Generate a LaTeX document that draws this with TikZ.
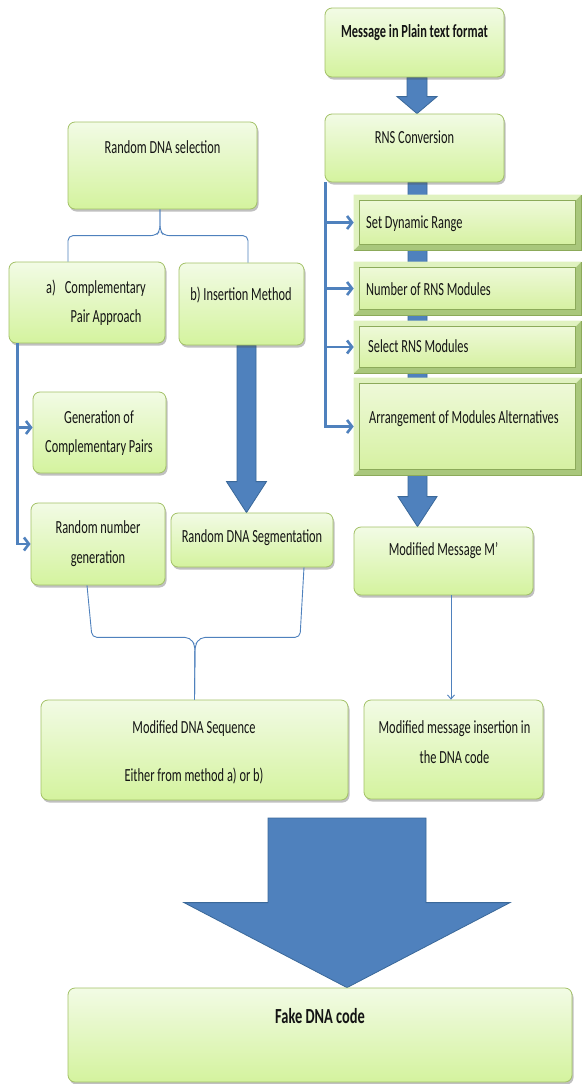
\documentclass[tikz,border=0pt]{standalone}
\usepackage{fontspec}
\setmainfont{Carlito}[FakeStretch=0.67]
\usetikzlibrary{positioning, calc, arrows.meta, shadows, backgrounds}
\definecolor{boxtop}{HTML}{F2FBE5}
\definecolor{boxbot}{HTML}{D4F39E}
\definecolor{boxedge}{HTML}{A3C167}
\definecolor{bevdark}{HTML}{A9C77C}
\definecolor{bevedge}{HTML}{8CAA5A}
\definecolor{bevlight}{HTML}{E0F2C0}
\definecolor{bevtop}{HTML}{EEF9D8}
\definecolor{bevbot}{HTML}{D6F1A2}
\definecolor{linkblue}{HTML}{4F81BD}
\definecolor{arrblue}{HTML}{4F81BD}
\definecolor{arredge}{HTML}{3A6899}
\definecolor{txt}{HTML}{141414}
\tikzset{
  greenbox/.style 2 args={draw=boxedge, line width=0.8pt, rounded corners=7pt,
    top color=boxtop, bottom color=boxbot, minimum width=#1pt, minimum height=#2pt, inner sep=0pt,
    drop shadow={shadow xshift=1.5pt, shadow yshift=-2.5pt, opacity=0.35, fill=black!70}},
  bevelbox/.style 2 args={draw=bevedge, line width=0.6pt, fill=bevdark,
    minimum width=#1pt, minimum height=#2pt, inner sep=0pt},
  lbl/.style={font=\fontsize{18.5}{22}\selectfont, anchor=base, inner sep=0pt, text=txt},
  lblb/.style={lbl, font=\fontsize{18.5}{22}\selectfont\bfseries},
  link/.style={draw=linkblue, line width=0.9pt, rounded corners=5pt},
  branch/.style={draw=linkblue, line width=2.6pt, -{Straight Barb[length=5pt,width=13pt]}},
  blockarr/.style={fill=arrblue, draw=arredge, line width=0.8pt}
}
% #1 start, #2 tip, #3 shaft half width, #4 head half width, #5 head length
\newcommand{\blockarrow}[5]{%
  \filldraw[blockarr] ($(#1)+(-#3,0)$) -- ($(#1)+(#3,0)$) -- ($(#2)+(#3,-#5)$) -- ($(#2)+(#4,-#5)$)
    -- (#2) -- ($(#2)+(-#4,-#5)$) -- ($(#2)+(-#3,-#5)$) -- cycle;}
\begin{document}
\begin{tikzpicture}[x=1pt, y=-1pt]
\useasboundingbox (0,0) rectangle (582,1084);

% right column
\node[greenbox={179}{69}] (msg) at (414.5,42.5) {};
\node[greenbox={179}{68}] (rns) at (414.5,148) {};
\node[bevelbox={227}{55}] (sdr) at (467.5,222.5) {};
\node[bevelbox={227}{53}] (nrm) at (467.5,288.5) {};
\node[bevelbox={227}{52}] (srm) at (467.5,347) {};
\node[bevelbox={227}{97}] (arr) at (467.5,426.5) {};
\node[greenbox={179}{68}] (modm) at (443.5,561) {};
\node[greenbox={179}{99}] (mins) at (453.5,749.5) {};

% left column
\node[greenbox={189}{87}] (rdna) at (162.5,165.5) {};
\node[greenbox={156}{81}] (apair) at (87,302.5) {};
\node[greenbox={125}{82}] (bins) at (241.5,304) {};
\node[greenbox={133}{81}] (gen) at (99.5,432.5) {};
\node[greenbox={134}{82}] (rnum) at (98,544) {};
\node[greenbox={162}{54}] (rseg) at (252,540) {};
\node[greenbox={307}{100}] (mdna) at (194.5,750) {};

\node[greenbox={504}{94}] (fake) at (320,1035) {};

\foreach \b in {sdr,nrm,srm,arr}{
  \fill[bevlight] (\b.north west) -- (\b.north east) -- ([shift={(-6,6)}]\b.north east)
    -- ([shift={(6,6)}]\b.north west) -- ([shift={(6,-6)}]\b.south west) -- (\b.south west) -- cycle;
  \path[top color=bevtop, bottom color=bevbot, draw=bevedge, line width=0.5pt]
    ([shift={(6,6)}]\b.north west) rectangle ([shift={(-6,-6)}]\b.south east);
}

% block arrows behind the boxes
\begin{scope}[on background layer]
\fill[white] (0,0) rectangle (582,1084);
\coordinate (a1) at ([xshift=2.5pt]msg.south);
\coordinate (a1t) at ([xshift=2.5pt]rns.north);
\blockarrow{a1}{a1t}{10}{20}{17}
\coordinate (a2) at ([xshift=3pt]rns.south);
\coordinate (a2t) at (modm.north -| a2);
\blockarrow{a2}{a2t}{9.5}{19.5}{30}
\coordinate (a3) at ([xshift=5pt]bins.south);
\coordinate (a3t) at (rseg.north -| a3);
\blockarrow{a3}{a3t}{9.5}{20}{31}
\coordinate (a4) at (347,818);
\coordinate (a4t) at (fake.north -| a4);
\blockarrow{a4}{a4t}{79}{163}{85}
\end{scope}

% braces and branches
\coordinate (bt) at ([xshift=-2.5pt]rdna.south);
\draw[link] ([xshift=-19pt]apair.north) -- ++(0,-26) -- ++(88,0) -- ++(4,-5) -- (bt);
\draw[link] ([xshift=6.5pt]bins.north) -- ++(0,-27) -- ++(-84,0) -- ++(-4,-5) -- (bt);
\draw[link] ([xshift=-11pt]rnum.south) -- ++(5,52) -- ++(98,0) -- ++(5,8) -- (mdna.north);
\draw[link] ([xshift=52pt]rseg.south) -- ++(-4,70) -- ++(-100,0) -- ++(-5,8) -- (mdna.north);
\coordinate (mm) at ([xshift=7.5pt]modm.south);
\draw[link, -{Straight Barb[length=4pt,width=7pt]}] (mm) -- (mm |- mins.north);

\draw[branch] ([xshift=9pt]apair.south west) |- ([yshift=5pt]gen.west);
\draw[branch] ([xshift=9pt]apair.south west) |- (rnum.west);
\foreach \b in {sdr,nrm,srm,arr}
  \draw[branch] ([xshift=1pt]rns.south west) |- (\b.west);

% texts
\node[lblb] (msgT) at (414.5,37) {Message in Plain text format};
\node[lbl] (rnsT) at (414.5,143) {RNS Conversion};
\node[lbl, anchor=base west] (sdrT) at (366,228) {Set Dynamic Range};
\node[lbl, anchor=base west] (nrmT) at (366,295) {Number of RNS Modules};
\node[lbl, anchor=base west] (srmT) at (368,352) {Select RNS Modules};
\node[lbl, anchor=base west] (arrT) at (369,423) {Arrangement of Modules Alternatives};
\node[lbl] (modmT) at (443.5,555) {Modified Message M’};
\node[lbl] (minsT1) at (454.5,733) {Modified message insertion in};
\node[lbl] (minsT2) at (454.5,763) {the DNA code};

\node[lbl] (rdnaT) at (162.5,153) {Random DNA selection};
\node[lbl, anchor=base west] (apairT1) at (46,293) {a)\hspace{9pt}Complementary};
\node[lbl, anchor=base west] (apairT2) at (70.5,322) {Pair Approach};
\node[lbl] (binsT) at (241,300) {b) Insertion Method};
\node[lbl] (genT1) at (99,423) {Generation of};
\node[lbl] (genT2) at (99,452) {Complementary Pairs};
\node[lbl] (rnumT1) at (98,533) {Random number};
\node[lbl] (rnumT2) at (98,563) {generation};
\node[lbl] (rsegT) at (252,542) {Random DNA Segmentation};
\node[lbl] (mdnaT1) at (194,733) {Modified DNA Sequence};
\node[lbl] (mdnaT2) at (194,781) {Either from method a) or b)};

\node[lblb, font=\fontsize{21.5}{25}\selectfont\bfseries] (fakeT) at (320,1023) {Fake DNA code};
\end{tikzpicture}
\end{document}
